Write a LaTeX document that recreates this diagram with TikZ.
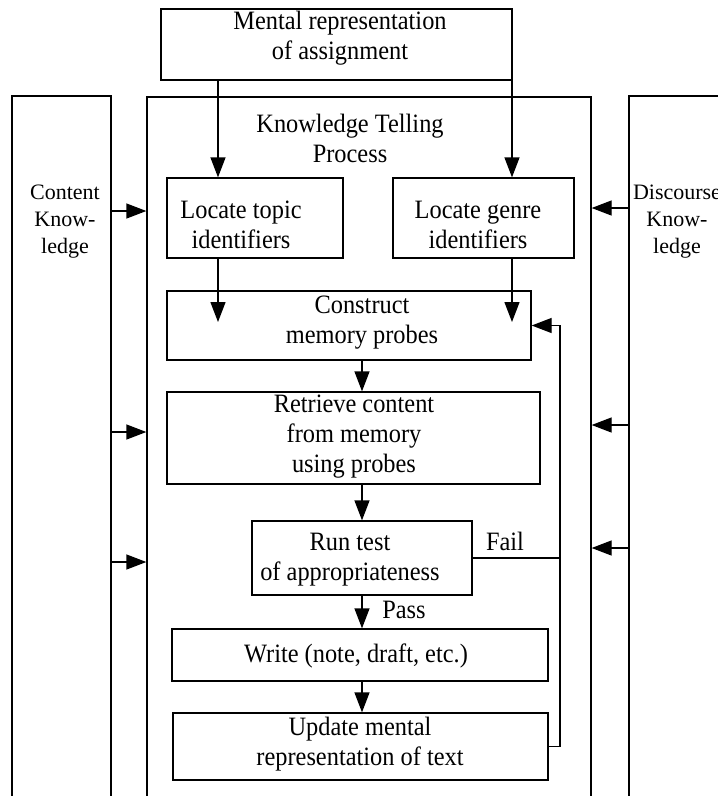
\documentclass[tikz,border=0pt]{standalone}
\usepackage{fontspec}
\setmainfont{Liberation Serif}
\newfontfamily\condfont{Liberation Serif}[FakeStretch=0.92]
\usetikzlibrary{arrows.meta}
\begin{document}
\begin{tikzpicture}[x=1pt,y=-1pt,
  box/.style={draw, line width=1.3pt, inner sep=0pt},
  txt/.style={font=\condfont\fontsize{26.5}{30}\selectfont, align=center, inner sep=0pt},
  side/.style={font=\fontsize{22}{27}\selectfont, align=center, inner sep=0pt},
  arr/.style={line width=1.3pt, -{Triangle[length=20pt,width=15pt]}},
  ln/.style={line width=1.3pt}]
\useasboundingbox (0,0) rectangle (718,796);
% columns and process frame (open at bottom, extend beyond page)
\node[box, minimum width=99pt, minimum height=810pt] (lcol) at (61.5,501) {};
\node[box, minimum width=200pt, minimum height=810pt] (rcol) at (729,501) {};
\node[box, minimum width=444pt, minimum height=810pt] (proc) at (369,502) {};
% boxes
\node[box, minimum width=351pt, minimum height=71pt] (top) at (336.5,44.5) {};
\node[box, minimum width=176pt, minimum height=80pt] (topic) at (255,218) {};
\node[box, minimum width=181pt, minimum height=80pt] (genre) at (483.5,218) {};
\node[box, minimum width=364pt, minimum height=69pt] (construct) at (349,325.5) {};
\node[box, minimum width=373pt, minimum height=92pt] (retrieve) at (353.5,438) {};
\node[box, minimum width=220pt, minimum height=74pt] (test) at (362,558) {};
\node[box, minimum width=376pt, minimum height=52pt] (write) at (360,655) {};
\node[box, minimum width=375pt, minimum height=67pt] (update) at (360.5,746.5) {};
% texts
\node[txt] (toptxt) at (340,38) {Mental representation\\of assignment};
\node[txt] (proctxt) at (350,138) {Knowledge Telling\\Process};
\node[txt] (topictxt) at (241,225) {Locate topic\\identifiers};
\node[txt] (genretxt) at (478,225) {Locate genre\\identifiers};
\node[txt] (constxt) at (362,323) {Construct\\memory probes};
\node[txt] (rettxt) at (354,437) {Retrieve content\\from memory\\using probes};
\node[txt] (testtxt) at (350,560) {Run test\\of appropriateness};
\node[txt] (writetxt) at (356,656) {Write (note, draft, etc.)};
\node[txt] (updtxt) at (360,744) {Update mental\\representation of text};
\node[side] (ctxt) at (65,222) {Content\\Know-\\ledge};
\node[side] (dtxt) at (677,222) {Discourse\\Know-\\ledge};
\node[txt] (fail) at (505,541) {Fail};
\node[txt] (pass) at (404,610) {Pass};
% guide coordinates
\coordinate (xa) at (218,0);
\coordinate (xb) at (512,0);
\coordinate (xc) at (362,0);
\coordinate (xf) at (560,0);
\coordinate (ta) at (218,322);
\coordinate (tb) at (512,322);
\coordinate (y1) at (0,211);
\coordinate (y2) at (0,432);
\coordinate (y3) at (0,562);
\coordinate (y4) at (0,208);
\coordinate (y5) at (0,425);
\coordinate (y6) at (0,548);
% arrows
\draw[arr] (top.south -| xa) -- (topic.north -| xa);
\draw[arr] (top.south -| xb) -- (genre.north -| xb);
\draw[arr] (topic.south -| xa) -- (ta);
\draw[arr] (genre.south -| xb) -- (tb);
\draw[arr] (construct.south -| xc) -- (retrieve.north -| xc);
\draw[arr] (retrieve.south -| xc) -- (test.north -| xc);
\draw[arr] (test.south -| xc) -- (write.north -| xc);
\draw[arr] (write.south -| xc) -- (update.north -| xc);
\draw[arr] (update.east) -| (construct.east -| xf) -- (construct.east);
\draw[ln] (test.east) -- (test.east -| xf);
\draw[arr] (lcol.east |- y1) -- (proc.west |- y1);
\draw[arr] (lcol.east |- y2) -- (proc.west |- y2);
\draw[arr] (lcol.east |- y3) -- (proc.west |- y3);
\draw[arr] (rcol.west |- y4) -- (proc.east |- y4);
\draw[arr] (rcol.west |- y5) -- (proc.east |- y5);
\draw[arr] (rcol.west |- y6) -- (proc.east |- y6);
\end{tikzpicture}
\end{document}
